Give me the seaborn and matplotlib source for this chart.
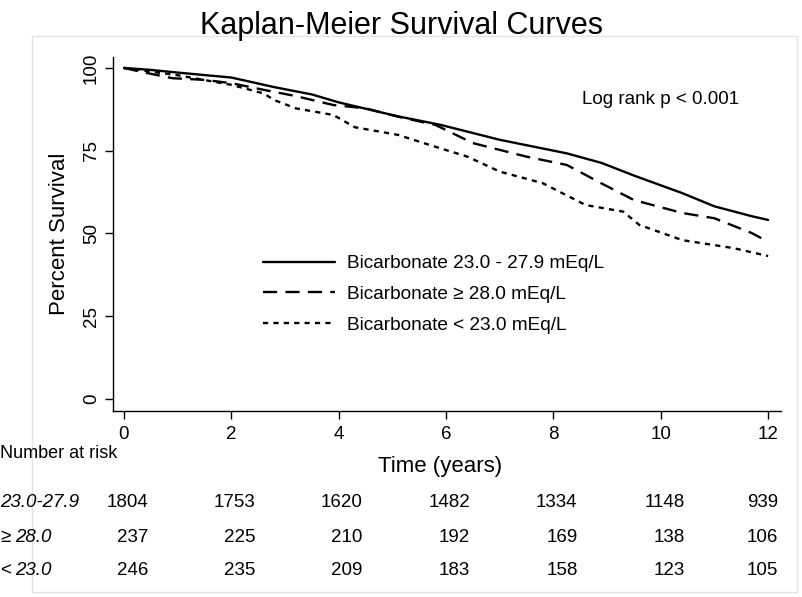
import numpy as np
import pandas as pd
import matplotlib
matplotlib.use("Agg")
import matplotlib.pyplot as plt
import matplotlib.transforms as mtransforms
from matplotlib.patches import Rectangle
import seaborn as sns

# Kaplan-Meier curves (time in years, percent surviving)
t_mid = [0, 0.5, 1, 2, 2.8, 3.5, 4, 5.1, 5.9, 7.0, 8.25, 8.9, 9.5, 10.4, 11.0, 11.7, 12]
s_mid = [100, 99.4, 98.6, 97.1, 94.2, 92.0, 89.6, 85.4, 82.8, 78.3, 74.2, 71.3, 67.5, 62.2, 58.2, 55.2, 54.1]

t_high = [0, 0.3, 0.9, 1.5, 2.0, 2.6, 3.2, 3.9, 4.5, 5.1, 5.8, 6.5, 7.5, 8.25, 8.9, 9.5, 10.4, 11.0, 11.7, 12]
s_high = [100, 98.9, 96.9, 96.4, 95.4, 93.4, 91.5, 88.8, 87.8, 85.3, 82.8, 77.3, 73.2, 70.7, 65.1, 60.1, 56.2, 54.6, 50.1, 47.5]

t_low = [0, 1, 2.0, 2.6, 2.8, 3.2, 3.9, 4.3, 5.1, 5.8, 6.4, 7.0, 7.8, 8.6, 9.3, 9.6, 10.4, 11.35, 12]
s_low = [100, 97.8, 94.9, 92.3, 90.3, 87.8, 85.8, 82.1, 79.8, 76.2, 73.2, 68.7, 65.2, 58.6, 56.6, 52.6, 48.0, 45.6, 43.2]

legend_labels = ["Bicarbonate 23.0 - 27.9 mEq/L",
                 "Bicarbonate \u2265 28.0 mEq/L",
                 "Bicarbonate < 23.0 mEq/L"]

# number at risk table
risk_times = [0, 2, 4, 6, 8, 10, 12]
risk_mid = [1804, 1753, 1620, 1482, 1334, 1148, 939]
risk_high = [237, 225, 210, 192, 169, 138, 106]
risk_low = [246, 235, 209, 183, 158, 123, 105]

sns.set_style("ticks")
plt.rcParams['font.family'] = ['Liberation Sans', 'DejaVu Sans']
plt.rcParams['text.color'] = 'black'
plt.rcParams['axes.labelcolor'] = 'black'

fig = plt.figure(figsize=(8.03, 5.97), dpi=100)
ax = fig.add_axes([0.1407, 0.3116, 0.8319, 0.5929])

styles = ['-', (0, (6, 3.5)), (0, (2.2, 2.2))]
curves = [(t_mid, s_mid), (t_high, s_high), (t_low, s_low)]
for (t, s), ls, lab in zip(curves, styles, legend_labels):
    sns.lineplot(x=t, y=s, ax=ax, color='black', linestyle=ls, linewidth=1.7,
                 estimator=None, sort=False, label=lab)

ax.set_xlim(-0.205, 12.24)
ax.set_ylim(-3.6, 103.3)
ax.set_xticks(risk_times)
ax.set_yticks([0, 25, 50, 75, 100])
ax.tick_params(axis='both', labelsize=13.5, length=6, width=1, colors='black')
ax.tick_params(axis='x', pad=5)
for lbl in ax.get_yticklabels():
    lbl.set_rotation(90)
    lbl.set_va('center')
sns.despine(ax=ax)
for sp in ['left', 'bottom']:
    ax.spines[sp].set_linewidth(1)
    ax.spines[sp].set_color('black')

ax.set_xlabel('Time (years)', fontsize=16)
ax.set_ylabel('Percent Survival', fontsize=16, labelpad=9)
ax.xaxis.set_label_coords(0.49, -0.128)

leg = ax.legend(loc='upper left', bbox_to_anchor=(0.2246, 0.441), frameon=False,
                fontsize=13.7, handlelength=3.8, handletextpad=0.6,
                labelspacing=0.71, borderpad=0, borderaxespad=0)

ax.text(0.819, 0.88, 'Log rank p < 0.001', transform=ax.transAxes,
        fontsize=13.5, ha='center', va='center')

fig.suptitle('Kaplan-Meier Survival Curves', fontsize=22, y=0.982)

# number at risk rows below the axes
trans = mtransforms.blended_transform_factory(ax.transData, fig.transFigure)
fig.text(0.0, 0.2412, 'Number at risk', fontsize=13, ha='left', va='center')
row_y = [0.1575, 0.1005, 0.0436]
for counts, y in zip([risk_mid, risk_high, risk_low], row_y):
    for t, n in zip(risk_times, counts):
        ax.text(min(t + 0.45, 12.18), y, str(n), transform=trans, fontsize=13.5,
                ha='right', va='center', clip_on=False)
fig.text(0.0, row_y[0], '23.0-27.9', fontsize=13.5, style='italic', ha='left', va='center')
fig.text(0.0, row_y[1], '\u2265', fontsize=13.5, ha='left', va='center')
fig.text(0.0187, row_y[1], '28.0', fontsize=13.5, style='italic', ha='left', va='center')
fig.text(0.0, row_y[2], '<', fontsize=13.5, ha='left', va='center')
fig.text(0.0187, row_y[2], '23.0', fontsize=13.5, style='italic', ha='left', va='center')

# faint frame of the graph region
fig.patches.append(Rectangle((32 / 803, 1 - 592 / 597), 765 / 803, 556 / 597,
                             transform=fig.transFigure, fill=False,
                             edgecolor='#e4e4e4', linewidth=1))

fig.savefig('out.png', dpi=100)
